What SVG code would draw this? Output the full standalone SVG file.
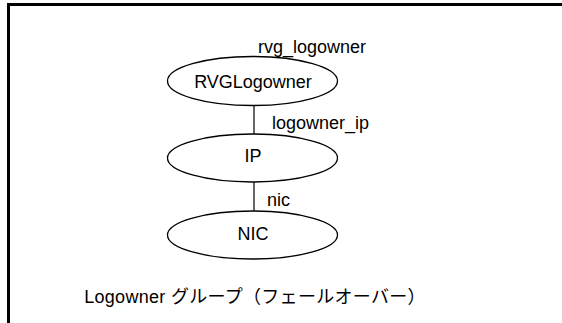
<svg xmlns="http://www.w3.org/2000/svg" width="562" height="323" viewBox="0 0 562 323">
<style>
.node ellipse{fill:#fff;stroke:#000;stroke-width:1.3}
text{font-family:"Liberation Sans","Noto Sans CJK JP",sans-serif;font-size:18px;fill:#000}
.c{text-anchor:middle}
.conn line{stroke:#000;stroke-width:1.2}
.frame{stroke:#000;stroke-width:3;fill:none}
</style>
<rect width="562" height="323" fill="#fff"/>
<path class="frame" d="M8.5,323 V4.5 H562"/>
<g class="conn" id="connectors">
<line x1="254" y1="105" x2="254" y2="134"/>
<line x1="254" y1="182" x2="254" y2="211"/>
</g>
<g class="node" id="rvglogowner">
<ellipse cx="252.5" cy="81" rx="85" ry="24.5"/>
<text class="c" x="253" y="88">RVGLogowner</text>
<text x="258" y="53">rvg_logowner</text>
</g>
<g class="node" id="ip">
<ellipse cx="252.5" cy="158" rx="85" ry="24"/>
<text class="c" x="253" y="162">IP</text>
<text x="272" y="129">logowner_ip</text>
</g>
<g class="node" id="nic">
<ellipse cx="252.5" cy="235" rx="85" ry="24"/>
<text class="c" x="253" y="240">NIC</text>
<text x="267" y="206">nic</text>
</g>
<text id="caption" class="c" x="255" y="303" style="letter-spacing:0.3px">Logowner グループ（フェールオーバー）</text>
</svg>
